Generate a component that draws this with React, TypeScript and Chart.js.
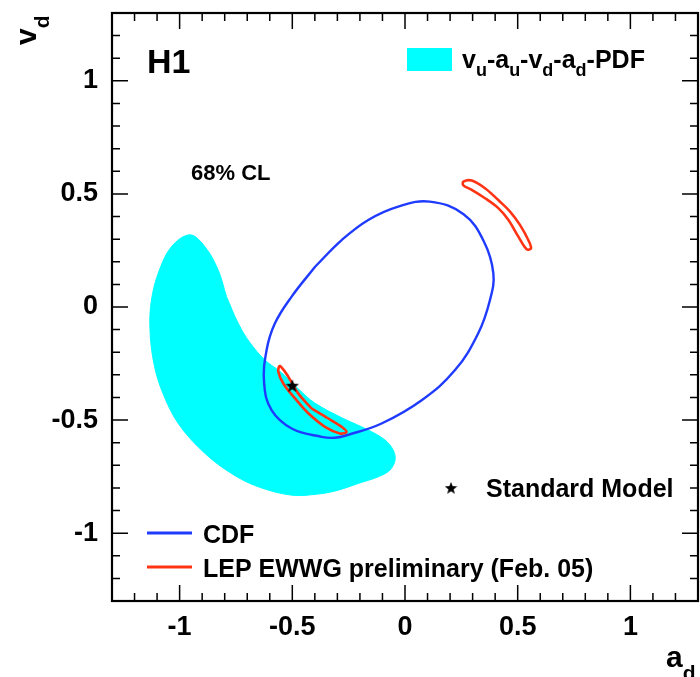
import React, { useEffect, useRef } from 'react';
import { Chart, registerables } from 'chart.js';

Chart.register(...registerables);

// ---- Data (a_d, v_d) ----
const xMajorTicks = [-1, -0.5, 0, 0.5, 1];
const yMajorTicks = [-1, -0.5, 0, 0.5, 1];
const minorTicks = [-1.2, -1.1, -0.9, -0.8, -0.7, -0.6, -0.4, -0.3, -0.2, -0.1, 0.1, 0.2, 0.3, 0.4, 0.6, 0.7, 0.8, 0.9, 1.1, 1.2];

// closed contours (start on a nearly straight part of each curve)
const pdfContour: [number, number][] = [
  [-0.792, 0.046], [-0.740, -0.072],
  [-0.690, -0.155], [-0.621, -0.235], [-0.548, -0.290], [-0.470, -0.365], [-0.400, -0.425],
  [-0.280, -0.490], [-0.163, -0.544], [-0.089, -0.588], [-0.052, -0.633], [-0.044, -0.677],
  [-0.067, -0.721], [-0.119, -0.751], [-0.207, -0.780], [-0.296, -0.810], [-0.385, -0.827],
  [-0.503, -0.832], [-0.651, -0.795], [-0.770, -0.736], [-0.888, -0.647], [-1.006, -0.515],
  [-1.080, -0.367], [-1.117, -0.235], [-1.132, -0.087], [-1.125, 0.031], [-1.095, 0.149],
  [-1.036, 0.267], [-0.954, 0.319], [-0.888, 0.267], [-0.829, 0.164], [-0.792, 0.046],
];

const cdfContour: [number, number][] = [
  [-0.399, 0.178], [-0.503, 0.046], [-0.577, -0.072], [-0.614, -0.190], [-0.625, -0.338],
  [-0.592, -0.456], [-0.503, -0.537], [-0.370, -0.574], [-0.310, -0.578], [-0.252, -0.565],
  [-0.104, -0.515], [0.074, -0.412], [0.222, -0.279], [0.325, -0.116], [0.377, 0.031],
  [0.392, 0.149], [0.350, 0.290], [0.260, 0.410], [0.110, 0.466], [-0.030, 0.444],
  [-0.163, 0.385], [-0.281, 0.296], [-0.399, 0.178],
];

const lepContourLow: [number, number][] = [
  [-0.415, -0.448], [-0.340, -0.493], [-0.281, -0.530], [-0.259, -0.552], [-0.289, -0.559],
  [-0.355, -0.530], [-0.429, -0.470], [-0.488, -0.404], [-0.540, -0.338], [-0.562, -0.286],
  [-0.555, -0.261], [-0.518, -0.308], [-0.474, -0.382], [-0.415, -0.448],
];

const lepContourHigh: [number, number][] = [
  [0.414, 0.473], [0.466, 0.422], [0.510, 0.363], [0.547, 0.296], [0.559, 0.260],
  [0.540, 0.255], [0.503, 0.311], [0.459, 0.385], [0.414, 0.437], [0.355, 0.481],
  [0.296, 0.518], [0.259, 0.538], [0.259, 0.554], [0.296, 0.559], [0.355, 0.525],
  [0.414, 0.473],
];

const smPoint: [number, number][] = [[-0.5, -0.348]];

const CYAN = '#00ffff';
const BLUE = '#1f3bff';
const RED = '#ff3414';
const FONT = '"Liberation Sans", Arial, Helvetica, sans-serif';

function starPath(ctx: CanvasRenderingContext2D, cx: number, cy: number, R: number, r: number) {
  ctx.beginPath();
  for (let i = 0; i < 10; i++) {
    const ang = -Math.PI / 2 + (i * Math.PI) / 5;
    const rad = i % 2 === 0 ? R : r;
    ctx.lineTo(cx + rad * Math.cos(ang), cy + rad * Math.sin(ang));
  }
  ctx.closePath();
}

function makeStar(size: number) {
  const c = document.createElement('canvas');
  c.width = size;
  c.height = size;
  const ctx = c.getContext('2d')!;
  starPath(ctx, size / 2, size / 2 + 0.5, size / 2, (size / 2) * 0.42);
  ctx.fillStyle = '#000';
  ctx.fill();
  return c;
}

const toXY = (arr: [number, number][]) => arr.map(([x, y]) => ({ x, y }));

const fixFit = (s: any) => {
  s.paddingTop = 0;
  s.paddingBottom = 0;
  s.paddingLeft = 0;
  s.paddingRight = 0;
};

export default function App() {
  const ref = useRef<HTMLCanvasElement | null>(null);

  useEffect(() => {
    document.body.style.margin = '0';
    const canvas = ref.current!;
    const star = makeStar(14);

    const framePlugin = {
      id: 'frameTicks',
      afterDatasetsDraw(chart: any) {
        const { ctx, chartArea: a, scales } = chart;
        const xs = scales.x;
        const ys = scales.y;
        ctx.save();
        ctx.strokeStyle = '#000';
        ctx.lineWidth = 1.5;
        const drawX = (v: number, len: number) => {
          const px = xs.getPixelForValue(v);
          ctx.beginPath();
          ctx.moveTo(px, a.bottom); ctx.lineTo(px, a.bottom - len);
          ctx.moveTo(px, a.top); ctx.lineTo(px, a.top + len);
          ctx.stroke();
        };
        const drawY = (v: number, len: number) => {
          const py = ys.getPixelForValue(v);
          ctx.beginPath();
          ctx.moveTo(a.left, py); ctx.lineTo(a.left + len, py);
          ctx.moveTo(a.right, py); ctx.lineTo(a.right - len, py);
          ctx.stroke();
        };
        xMajorTicks.forEach((v) => drawX(v, 16));
        minorTicks.forEach((v) => drawX(v, 8));
        yMajorTicks.forEach((v) => drawY(v, 16));
        minorTicks.forEach((v) => drawY(v, 8));
        ctx.lineWidth = 2.2;
        ctx.strokeRect(a.left, a.top, a.right - a.left, a.bottom - a.top);
        ctx.restore();
      },
      afterDraw(chart: any) {
        const { ctx } = chart;
        ctx.save();
        ctx.fillStyle = '#000';
        ctx.textBaseline = 'alphabetic';
        ctx.textAlign = 'left';

        // H1 label
        ctx.font = `bold 34px ${FONT}`;
        ctx.fillText('H1', 147, 73);

        // 68% CL
        ctx.font = `bold 22px ${FONT}`;
        ctx.fillText('68% CL', 191, 180);

        // PDF legend
        ctx.fillStyle = CYAN;
        ctx.fillRect(407, 48, 45, 23);
        ctx.fillStyle = '#000';
        const parts: [string, boolean][] = [
          ['v', false], ['u', true], ['-a', false], ['u', true], ['-v', false], ['d', true],
          ['-a', false], ['d', true], ['-PDF', false],
        ];
        let x = 462;
        for (const [t, sub] of parts) {
          ctx.font = sub ? `bold 18px ${FONT}` : `bold 25px ${FONT}`;
          ctx.fillText(t, x, sub ? 76 : 68);
          x += ctx.measureText(t).width;
        }

        // CDF / LEP legend
        ctx.lineWidth = 3;
        ctx.strokeStyle = BLUE;
        ctx.beginPath(); ctx.moveTo(147, 533); ctx.lineTo(192, 533); ctx.stroke();
        ctx.strokeStyle = RED;
        ctx.beginPath(); ctx.moveTo(147, 567); ctx.lineTo(192, 567); ctx.stroke();
        ctx.font = `bold 25px ${FONT}`;
        ctx.fillText('CDF', 203, 543);
        ctx.fillText('LEP EWWG preliminary (Feb. 05)', 203, 577);

        // Standard model legend
        ctx.drawImage(star, 451 - 6.5, 488 - 6.5, 13, 13);
        ctx.fillText('Standard Model', 486, 497);

        // axis titles
        ctx.save();
        ctx.translate(36, 45);
        ctx.rotate(-Math.PI / 2);
        ctx.font = `bold 30px ${FONT}`;
        ctx.fillText('v', 0, 0);
        const vw = ctx.measureText('v').width;
        ctx.font = `bold 21px ${FONT}`;
        ctx.fillText('d', vw, 13);
        ctx.restore();

        ctx.font = `bold 30px ${FONT}`;
        ctx.fillText('a', 666, 667);
        const aw = ctx.measureText('a').width;
        ctx.font = `bold 21px ${FONT}`;
        ctx.fillText('d', 666 + aw, 680);

        ctx.restore();
      },
    };

    const tickFont = { family: FONT, size: 27, weight: 'bold' as const };
    const fmt = (v: any) => String(Number(v));

    const chart = new Chart(canvas, {
      type: 'scatter',
      data: {
        datasets: [
          {
            label: 'Standard Model',
            data: toXY(smPoint),
            pointStyle: star as any,
            pointRadius: 7,
            showLine: false,
            order: 0,
          },
          {
            label: 'LEP EWWG preliminary (Feb. 05)',
            data: toXY(lepContourLow),
            showLine: true,
            borderColor: RED,
            borderWidth: 2.6,
            pointRadius: 0,
            tension: 0.35,
            fill: false,
            order: 1,
          },
          {
            label: 'LEP EWWG preliminary (Feb. 05), second region',
            data: toXY(lepContourHigh),
            showLine: true,
            borderColor: RED,
            borderWidth: 2.6,
            pointRadius: 0,
            tension: 0.35,
            fill: false,
            order: 1,
          },
          {
            label: 'CDF',
            data: toXY(cdfContour),
            showLine: true,
            borderColor: BLUE,
            borderWidth: 2.4,
            pointRadius: 0,
            tension: 0.4,
            fill: false,
            order: 2,
          },
          {
            label: 'vu-au-vd-ad-PDF',
            data: toXY(pdfContour),
            showLine: true,
            borderColor: CYAN,
            borderWidth: 1,
            backgroundColor: CYAN,
            pointRadius: 0,
            tension: 0.35,
            fill: 'shape',
            order: 3,
          },
        ],
      },
      options: {
        animation: false,
        responsive: false,
        maintainAspectRatio: false,
        layout: { autoPadding: false, padding: { top: 13, right: 2, left: 0, bottom: 0 } },
        plugins: { legend: { display: false }, tooltip: { enabled: false } },
        scales: {
          x: {
            type: 'linear',
            min: -1.3,
            max: 1.3,
            grid: { display: false },
            border: { display: false },
            ticks: { font: tickFont, color: '#000', padding: 2, maxRotation: 0, autoSkip: false, callback: fmt },
            afterBuildTicks: (s: any) => { s.ticks = xMajorTicks.map((v) => ({ value: v })); },
            afterFit: (s: any) => { s.height = 76; fixFit(s); },
          },
          y: {
            type: 'linear',
            min: -1.3,
            max: 1.3,
            grid: { display: false },
            border: { display: false },
            ticks: { font: tickFont, color: '#000', padding: 6, autoSkip: false, callback: fmt },
            afterBuildTicks: (s: any) => { s.ticks = yMajorTicks.map((v) => ({ value: v })); },
            afterFit: (s: any) => { s.width = 112; fixFit(s); },
          },
        },
      },
      plugins: [framePlugin],
    });

    return () => chart.destroy();
  }, []);

  return (
    <div style={{ width: 700, height: 677, background: '#fff' }}>
      <canvas ref={ref} width={700} height={677} style={{ display: 'block' }} />
    </div>
  );
}
